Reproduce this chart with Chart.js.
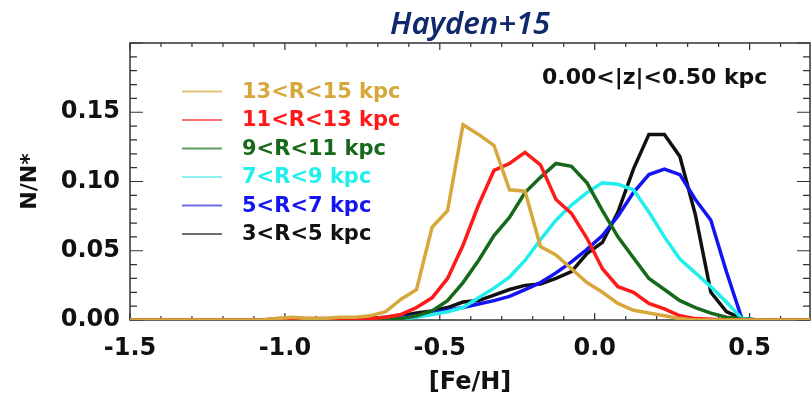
<!DOCTYPE html>
<html>
<head>
<meta charset="utf-8">
<script src="https://cdn.jsdelivr.net/npm/chart.js@4"></script>
<style>
  html, body { margin: 0; padding: 0; background: #fff; }
  #wrap { width: 812px; height: 399px; }
</style>
</head>
<body>
<div id="wrap"><canvas id="mdfChart" width="812" height="399"></canvas></div>
<script>
// [Fe/H] bin centres (0.05 dex bins)
const feH = [
  -1.525, -1.475, -1.425, -1.375, -1.325, -1.275, -1.225, -1.175, -1.125, -1.075,
  -1.025, -0.975, -0.925, -0.875, -0.825, -0.775, -0.725, -0.675, -0.625, -0.575,
  -0.525, -0.475, -0.425, -0.375, -0.325, -0.275, -0.225, -0.175, -0.125, -0.075,
  -0.025, 0.025, 0.075, 0.125, 0.175, 0.225, 0.275, 0.325, 0.375, 0.425,
  0.475, 0.525, 0.575, 0.625, 0.675, 0.725
];

// N/N* per radial bin
const r13to15 = [
  0, 0, 0, 0, 0, 0, 0, 0, 0, 0,
  0.001, 0.002, 0.001, 0.001, 0.002, 0.002, 0.003, 0.006, 0.015, 0.022,
  0.067, 0.079, 0.141, 0.134, 0.126, 0.094, 0.093, 0.053, 0.047, 0.037,
  0.027, 0.020, 0.012, 0.007, 0.005, 0.003, 0.001, 0, 0, 0,
  0, 0, 0, 0, 0, 0
];
const r11to13 = [
  0, 0, 0, 0, 0, 0, 0, 0, 0, 0,
  0.001, 0.001, 0.001, 0.001, 0.001, 0.001, 0.001, 0.002, 0.004, 0.009,
  0.016, 0.030, 0.054, 0.083, 0.108, 0.113, 0.121, 0.112, 0.087, 0.077,
  0.059, 0.037, 0.024, 0.020, 0.012, 0.008, 0.003, 0.001, 0.0005, 0,
  0, 0, 0, 0, 0, 0
];
const r9to11 = [
  0, 0, 0, 0, 0, 0, 0, 0, 0, 0,
  0, 0, 0, 0, 0, 0, 0, 0.0005, 0.001, 0.003,
  0.0065, 0.014, 0.027, 0.043, 0.061, 0.074, 0.092, 0.103, 0.113, 0.111,
  0.099, 0.079, 0.060, 0.045, 0.030, 0.022, 0.014, 0.009, 0.005, 0.002,
  0.0005, 0, 0, 0, 0, 0
];
const r7to9 = [
  0, 0, 0, 0, 0, 0, 0, 0, 0, 0,
  0, 0, 0, 0, 0, 0, 0, 0.0005, 0.001, 0.002,
  0.004, 0.006, 0.009, 0.016, 0.023, 0.031, 0.043, 0.058, 0.072, 0.083,
  0.092, 0.099, 0.098, 0.094, 0.078, 0.060, 0.044, 0.034, 0.024, 0.013,
  0.001, 0, 0, 0, 0, 0
];
const r5to7 = [
  0, 0, 0, 0, 0, 0, 0, 0, 0, 0,
  0, 0, 0, 0, 0, 0, 0, 0.001, 0.002, 0.003,
  0.005, 0.007, 0.009, 0.0115, 0.014, 0.017, 0.022, 0.027, 0.034, 0.042,
  0.051, 0.061, 0.075, 0.092, 0.105, 0.109, 0.105, 0.087, 0.072, 0.035,
  0.001, 0, 0, 0, 0, 0
];
const r3to5 = [
  0, 0, 0, 0, 0, 0, 0, 0, 0, 0,
  0, 0, 0, 0, 0, 0, 0.001, 0.002, 0.003, 0.005,
  0.0065, 0.009, 0.013, 0.014, 0.018, 0.022, 0.025, 0.026, 0.030, 0.035,
  0.048, 0.056, 0.078, 0.109, 0.134, 0.134, 0.118, 0.076, 0.020, 0.006,
  0.001, 0, 0, 0, 0, 0
];

const binLabels = ['13<R<15 kpc', '11<R<13 kpc', '9<R<11 kpc', '7<R<9 kpc', '5<R<7 kpc', '3<R<5 kpc'];
const binSeries = [r13to15, r11to13, r9to11, r7to9, r5to7, r3to5];
const lineColors = ['#d6a83c', '#ff1a1a', '#16691a', '#22eeee', '#1414f0', '#111111'];
const keyColors = ['#e2c27c', '#ff7070', '#5c9c5c', '#90f4f4', '#7070e6', '#707070'];
const zLabel = '0.00<|z|<0.50 kpc';
const titleText = 'Hayden+15';

const boldFont = size => ({ family: 'DejaVu Sans', weight: 'bold', size: size });

// axis frame with IDL-style inward ticks on all four sides
const framePlugin = {
  id: 'frame',
  beforeDatasetsDraw(chart) {
    const { ctx, chartArea: a, scales: { x, y } } = chart;
    ctx.save();
    ctx.strokeStyle = '#333';
    ctx.lineWidth = 1.5;
    ctx.strokeRect(a.left, a.top, a.right - a.left, a.bottom - a.top);
    ctx.lineWidth = 1.2;
    ctx.beginPath();
    for (let i = -15; i <= 7; i++) {
      const px = x.getPixelForValue(i / 10);
      if (px > a.right) continue;
      const len = i % 5 === 0 ? 7 : 4;
      ctx.moveTo(px, a.bottom); ctx.lineTo(px, a.bottom - len);
      ctx.moveTo(px, a.top); ctx.lineTo(px, a.top + len);
    }
    for (let j = 0; j <= 20; j++) {
      const py = y.getPixelForValue(j / 100);
      const len = j % 5 === 0 ? 13 : 7;
      ctx.moveTo(a.left, py); ctx.lineTo(a.left + len, py);
      ctx.moveTo(a.right, py); ctx.lineTo(a.right - len, py);
    }
    ctx.stroke();
    ctx.restore();
  }
};

// key, z-range note and the title
const notesPlugin = {
  id: 'notes',
  afterDraw(chart) {
    const { ctx, chartArea: a } = chart;
    ctx.save();
    ctx.font = 'bold 21px "DejaVu Sans"';
    ctx.textBaseline = 'middle';
    chart.data.datasets.forEach((ds, i) => {
      const rowY = 91.5 + i * 28.5;
      ctx.strokeStyle = keyColors[i];
      ctx.lineWidth = 2;
      ctx.beginPath();
      ctx.moveTo(182, rowY);
      ctx.lineTo(222, rowY);
      ctx.stroke();
      ctx.fillStyle = lineColors[i];
      ctx.fillText(ds.label, 242, rowY + 1);
    });

    ctx.fillStyle = '#111';
    ctx.font = 'bold 22px "DejaVu Sans"';
    ctx.fillText(zLabel, 542, 78);

    ctx.fillStyle = '#10296c';
    ctx.font = 'italic 600 31px "Noto Sans"';
    ctx.textAlign = 'center';
    ctx.textBaseline = 'alphabetic';
    ctx.fillText(titleText, (a.left + a.right) / 2, 34);
    ctx.restore();
  }
};

new Chart(document.getElementById('mdfChart'), {
  type: 'line',
  data: {
    datasets: binSeries.map((vals, i) => ({
      label: binLabels[i],
      data: feH.map((fe, k) => ({ x: fe, y: vals[k] })),
      borderColor: lineColors[i],
      borderWidth: 3.5,
      pointRadius: 0,
      tension: 0,
      fill: false
    }))
  },
  options: {
    responsive: false,
    animation: false,
    devicePixelRatio: 1,
    layout: { padding: { top: 43, right: 2, left: 0, bottom: 0 } },
    plugins: {
      legend: { display: false },
      tooltip: { enabled: false },
      title: { display: false }
    },
    scales: {
      x: {
        type: 'linear',
        min: -1.5,
        max: 0.695,
        afterFit: s => { s.height = 79; },
        grid: { display: false, drawTicks: false },
        border: { display: false },
        ticks: {
          stepSize: 0.5,
          includeBounds: false,
          autoSkip: false,
          maxRotation: 0,
          padding: 14,
          color: '#111',
          font: boldFont(24),
          callback: v => v.toFixed(1)
        },
        title: {
          display: true,
          text: '[Fe/H]',
          color: '#111',
          font: boldFont(24),
          padding: { top: 0, bottom: 2 }
        }
      },
      y: {
        min: 0,
        max: 0.2,
        afterFit: s => { s.width = 130; },
        grid: { display: false, drawTicks: false },
        border: { display: false },
        ticks: {
          stepSize: 0.05,
          padding: 10,
          color: '#111',
          font: boldFont(24),
          callback: v => (v > 0.19 ? '' : v.toFixed(2))
        },
        title: {
          display: true,
          text: 'N/N*',
          color: '#111',
          font: boldFont(22),
          padding: { top: 17, bottom: 0 }
        }
      }
    }
  },
  plugins: [framePlugin, notesPlugin]
});
</script>
</body>
</html>
